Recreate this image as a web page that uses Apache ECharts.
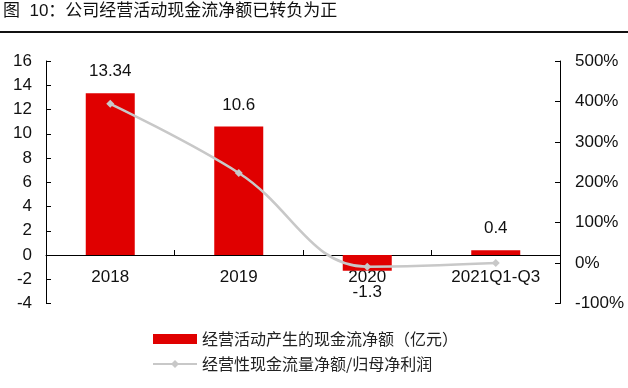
<!DOCTYPE html>
<html>
<head>
<meta charset="utf-8">
<script src="https://cdn.jsdelivr.net/npm/echarts@6/dist/echarts.min.js"></script>
<style>
html,body{margin:0;padding:0;background:#fff;}
#chart{width:628px;height:388px;}
</style>
</head>
<body>
<div id="chart"></div>
<script>
const titleText = '图  10：公司经营活动现金流净额已转负为正';
const categories = ['2018', '2019', '2020', '2021Q1-Q3'];
const cashFlow = [13.34, 10.6, -1.3, 0.4];
const cashRatio = [394, 223, -9, 0];
const seriesNames = ['经营活动产生的现金流净额（亿元）', '经营性现金流量净额/归母净利润'];
const leftTicks = { min: -4, max: 16, interval: 2 };
const rightTicks = { min: -100, max: 500, interval: 100 };

const font = '"Liberation Sans", Arial, "Noto Sans CJK SC", sans-serif';
const cjk = '"Noto Sans CJK SC", "Liberation Sans", sans-serif';

const chart = echarts.init(document.getElementById('chart'), null, { renderer: 'canvas' });
chart.setOption({
  animation: false,
  backgroundColor: '#fff',
  textStyle: { fontFamily: font },
  graphic: [
    { type: 'text', left: 3, top: 3, style: { text: titleText, font: '17px ' + font, fill: '#111' } },
    { type: 'rect', left: 0, top: 31, shape: { width: 628, height: 2 }, style: { fill: '#111' } }
  ],
  grid: { left: 46, right: 68, top: 61, bottom: 84.5 },
  legend: {
    orient: 'vertical',
    left: 147,
    top: 326,
    itemWidth: 44,
    itemHeight: 10,
    itemGap: 9,
    textStyle: { fontFamily: cjk, fontSize: 16, color: '#222' },
    data: [
      { name: seriesNames[0], icon: 'rect' },
      { name: seriesNames[1] }
    ]
  },
  xAxis: {
    type: 'category',
    data: categories,
    axisLine: { onZero: true, lineStyle: { color: '#000', width: 1 } },
    axisTick: { show: true, inside: true, length: 5, alignWithLabel: false, lineStyle: { color: '#000' } },
    axisLabel: { color: '#111', fontSize: 17, margin: -35, fontFamily: font },
    splitLine: { show: false }
  },
  yAxis: [
    {
      type: 'value',
      min: leftTicks.min, max: leftTicks.max, interval: leftTicks.interval,
      axisLine: { show: true, lineStyle: { color: '#000' } },
      axisTick: { show: true, inside: true, length: 5, lineStyle: { color: '#000' } },
      axisLabel: { color: '#111', fontSize: 17, margin: 14, fontFamily: font },
      splitLine: { show: false }
    },
    {
      type: 'value',
      min: rightTicks.min, max: rightTicks.max, interval: rightTicks.interval,
      position: 'right',
      axisLine: { show: true, lineStyle: { color: '#000' } },
      axisTick: { show: true, inside: true, length: 5, lineStyle: { color: '#000' } },
      axisLabel: { color: '#111', fontSize: 17, margin: 15, fontFamily: font, formatter: v => v + '%' },
      splitLine: { show: false }
    }
  ],
  series: [
    {
      name: seriesNames[0],
      type: 'bar',
      data: cashFlow.map(v => ({
        value: v,
        label: { position: v < 0 ? 'bottom' : 'top' }
      })),
      barWidth: 49,
      itemStyle: { color: '#e00000' },
      label: { show: true, distance: 13, color: '#111', fontSize: 17, fontFamily: font },
      z: 2
    },
    {
      name: seriesNames[1],
      type: 'line',
      yAxisIndex: 1,
      data: cashRatio,
      smooth: 0.4,
      smoothConstraint: false,
      symbol: 'diamond',
      symbolSize: 8,
      lineStyle: { color: '#c8c8c8', width: 2.5 },
      itemStyle: { color: '#c8c8c8' },
      z: 3
    }
  ]
});
</script>
</body>
</html>
